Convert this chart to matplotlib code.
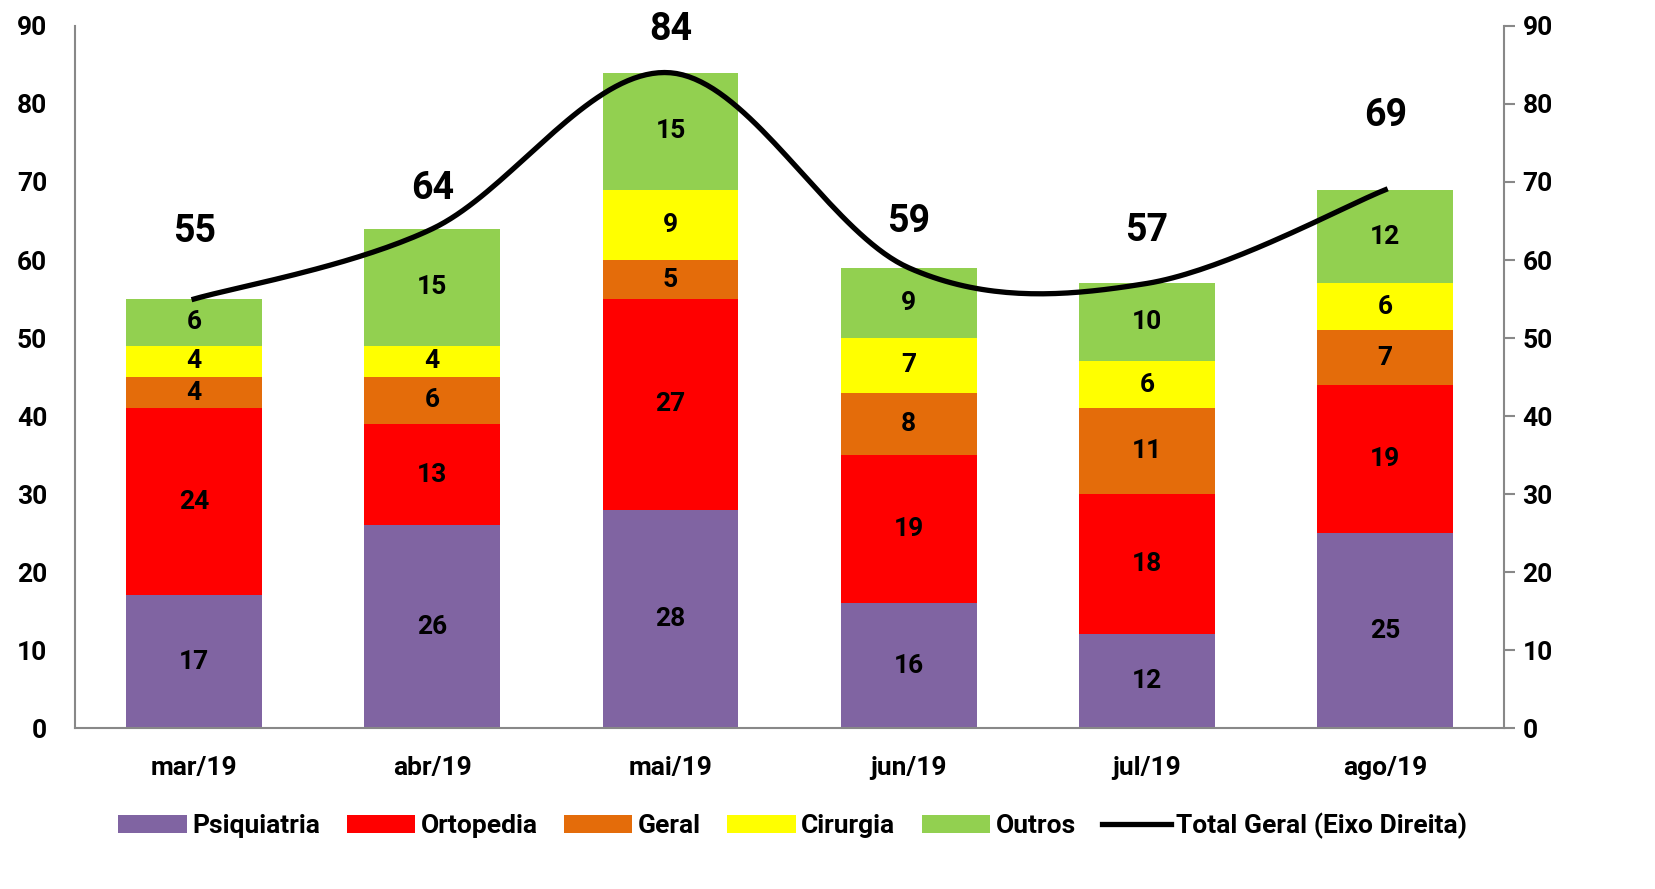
import numpy as np
import matplotlib.pyplot as plt

plt.rcParams['font.family'] = ['Roboto', 'DejaVu Sans']
plt.rcParams['font.weight'] = 'bold'

months = ['mar/19', 'abr/19', 'mai/19', 'jun/19', 'jul/19', 'ago/19']
psiquiatria = [17, 26, 28, 16, 12, 25]
ortopedia = [24, 13, 27, 19, 18, 19]
geral = [4, 6, 5, 8, 11, 7]
cirurgia = [4, 4, 9, 7, 6, 6]
outros = [6, 15, 15, 9, 10, 12]
total = [55, 64, 84, 59, 57, 69]

series = [('Psiquiatria', psiquiatria, '#8064A2'),
          ('Ortopedia', ortopedia, '#FF0000'),
          ('Geral', geral, '#E46C0A'),
          ('Cirurgia', cirurgia, '#FFFF00'),
          ('Outros', outros, '#92D050')]

# where the big total labels sit above each point (in axis units)
label_offsets = [8.6, 5.2, 5.5, 5.9, 6.8, 9.5]


def smooth(xs, ys, n=40):
    # Excel-style smoothed line: cubic bezier, control points at 1/6 of neighbours
    xs = np.asarray(xs, float)
    ys = np.asarray(ys, float)
    px = np.concatenate([[xs[0]], xs, [xs[-1]]])
    py = np.concatenate([[ys[0]], ys, [ys[-1]]])
    outx, outy = [], []
    t = np.linspace(0, 1, n)
    for i in range(1, len(px) - 2):
        x0, x1, x2, x3 = px[i - 1], px[i], px[i + 1], px[i + 2]
        y0, y1, y2, y3 = py[i - 1], py[i], py[i + 1], py[i + 2]
        c1x, c1y = x1 + (x2 - x0) / 6, y1 + (y2 - y0) / 6
        c2x, c2y = x2 - (x3 - x1) / 6, y2 - (y3 - y1) / 6
        bx = (1 - t)**3 * x1 + 3 * (1 - t)**2 * t * c1x + 3 * (1 - t) * t**2 * c2x + t**3 * x2
        by = (1 - t)**3 * y1 + 3 * (1 - t)**2 * t * c1y + 3 * (1 - t) * t**2 * c2y + t**3 * y2
        outx.extend(bx)
        outy.extend(by)
    return np.array(outx), np.array(outy)


fig = plt.figure(figsize=(16.55, 8.89), dpi=100)
ax = fig.add_axes([0.0453, 0.181, 0.8637, 0.7898])
x = np.arange(len(months))

bottom = np.zeros(len(months))
handles = []
for name, vals, color in series:
    b = ax.bar(x, vals, 0.57, bottom=bottom, color=color, label=name)
    handles.append(b)
    for xi, v, bt in zip(x, vals, bottom):
        ax.text(xi, bt + v / 2, str(v), ha='center', va='center',
                fontsize=19, fontweight='bold', color='black')
    bottom += np.array(vals)

ax.set_xlim(-0.5, len(months) - 0.5)
ax.set_ylim(0, 90)
ax.set_yticks(range(0, 91, 10))
ax.set_xticks(x)
ax.set_xticklabels(months)
ax.tick_params(axis='y', length=0, labelsize=19, pad=20)
ax.tick_params(axis='x', length=0, labelsize=19, pad=20)
ax.spines['top'].set_visible(False)
ax.spines['right'].set_visible(False)
ax.spines['left'].set_color('#888888')
ax.spines['bottom'].set_color('#888888')
ax.spines['left'].set_linewidth(1.5)
ax.spines['bottom'].set_linewidth(1.5)

ax2 = ax.twinx()
ax2.set_ylim(0, 90)
ax2.set_yticks(range(0, 91, 10))
ax2.tick_params(axis='y', length=8, width=1.5, color='#888888', labelsize=19, pad=5)
for s in ['top', 'left', 'bottom']:
    ax2.spines[s].set_visible(False)
ax2.spines['right'].set_color('#888888')
ax2.spines['right'].set_linewidth(1.5)

sx, sy = smooth(x, total)
line, = ax2.plot(sx, sy, color='black', lw=3.8, label='Total Geral (Eixo Direita)')
for xi, v, off in zip(x, total, label_offsets):
    ax2.text(xi, v + off, str(v), ha='center', va='center',
             fontsize=27, fontweight='bold')

fig.legend(handles + [line], [s[0] for s in series] + ['Total Geral (Eixo Direita)'],
           loc='center', bbox_to_anchor=(0.479, 0.071), ncol=6, frameon=False,
           fontsize=19, handlelength=2.6, handleheight=0.7, columnspacing=1.0,
           handletextpad=0.2)

fig.savefig('out.png', dpi=100)
